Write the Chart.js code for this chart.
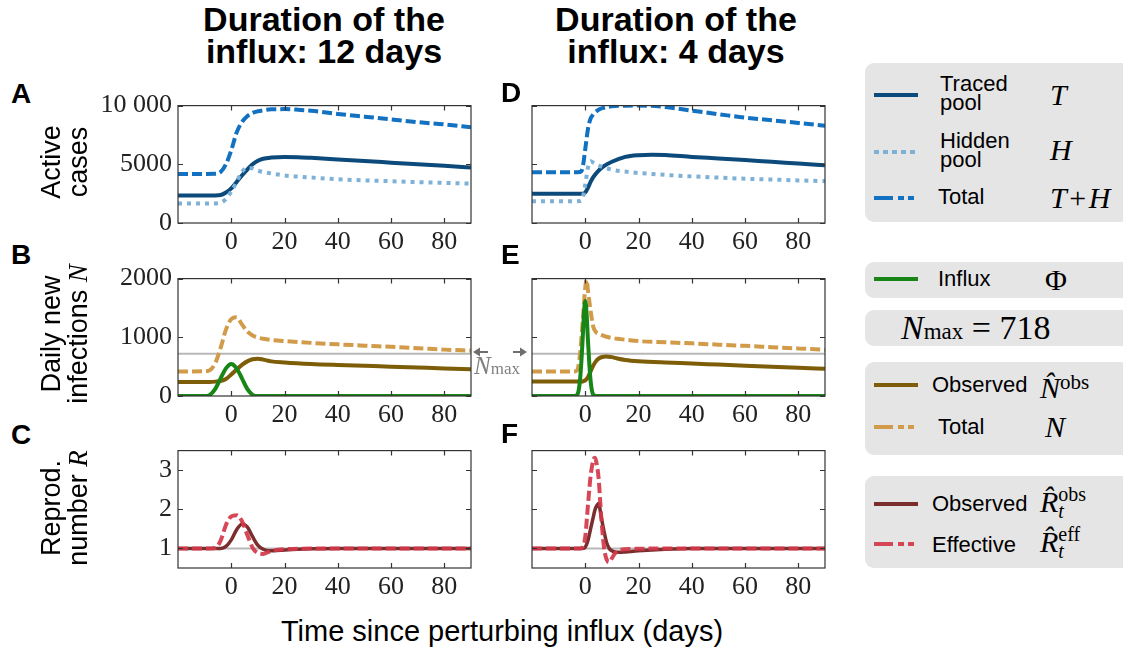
<!DOCTYPE html>
<html>
<head>
<meta charset="utf-8">
<script src="https://cdn.jsdelivr.net/npm/chart.js@4.4.1/dist/chart.umd.min.js"></script>
<style>
  body { margin: 0; width: 1123px; height: 653px; position: relative; overflow: hidden; background: #fff;
         font-family: "Liberation Sans", Arial, sans-serif; color: #000; }
  canvas.p { position: absolute; }
  .title { position: absolute; width: 340px; text-align: center; font-weight: bold; font-size: 34px; line-height: 32px; }
  .lab { position: absolute; font-weight: bold; font-size: 28px; line-height: 28px; }
  .ylab { position: absolute; width: 220px; height: 54px; font-size: 27px; line-height: 27px; text-align: center; transform: rotate(-90deg); }
  .m { font-family: "Liberation Serif", "Times New Roman", serif; font-style: italic; }
  .rm { font-family: "Liberation Serif", "Times New Roman", serif; font-style: normal; }
  .box { position: absolute; left: 865px; width: 290px; background: #e5e5e5; border-radius: 9px; }
  .lt { position: absolute; font-size: 22px; line-height: 19px; }
  .lm { position: absolute; font-size: 30px; line-height: 30px; white-space: nowrap; }
  .ss { display: inline-block; vertical-align: -6px; font-size: 20px; line-height: 17px; }
  .ss span { display: block; }
  svg.ls { position: absolute; left: 872px; width: 48px; height: 10px; overflow: visible; }
  .xl { position: absolute; left: 202px; width: 600px; text-align: center; font-size: 29px; line-height: 29px; top: 617px; }
</style>
</head>
<body>
<script>
// shared x ticks
const xTicks = [0, 20, 40, 60, 80];
const NMAX = 718;
const R_REF = 1;

// --- Panel A: active cases, 12-day influx ---
const tA      = [-20, -6, -4, -2, 0, 2, 4, 6, 8, 10, 12, 15, 20, 25, 30, 40, 50, 60, 70, 80, 90];
const tracedA = [2350, 2350, 2380, 2600, 2950, 3500, 4050, 4550, 5000, 5300, 5470, 5570, 5630, 5610, 5550, 5410, 5280, 5140, 5000, 4870, 4730];
const hiddenA = [1670, 1670, 1720, 2050, 2680, 3500, 4350, 4700, 4650, 4460, 4350, 4220, 4050, 3950, 3870, 3720, 3630, 3560, 3480, 3420, 3360];
const totalA  = [4180, 4190, 4350, 5000, 6200, 7700, 8600, 9100, 9380, 9520, 9600, 9680, 9700, 9650, 9560, 9290, 9060, 8830, 8590, 8400, 8150];

// --- Panel D: active cases, 4-day influx ---
const tD      = [-20, -4, -2, -1, 0, 1, 2, 3, 5, 7, 10, 15, 20, 25, 30, 40, 50, 60, 70, 80, 90];
const tracedD = [2490, 2490, 2490, 2500, 2600, 3000, 3500, 3900, 4460, 4850, 5220, 5630, 5780, 5820, 5800, 5630, 5500, 5360, 5210, 5070, 4920];
const hiddenD = [1860, 1860, 1870, 2100, 3300, 4700, 5250, 5150, 4900, 4750, 4540, 4380, 4260, 4180, 4100, 3970, 3870, 3770, 3700, 3630, 3560];
const totalD  = [4320, 4320, 4350, 4700, 6300, 8000, 8900, 9250, 9650, 9820, 9940, 9990, 10000, 9980, 9880, 9570, 9270, 8970, 8750, 8520, 8280];

// --- Panel B: daily new infections, 12-day influx ---
const tB      = [-20, -10, -8, -6, -4, -2, 0, 2, 4, 6, 8, 10, 12, 15, 20, 30, 40, 50, 60, 70, 80, 90];
const influxB = [0, 0, 20, 120, 300, 470, 545, 470, 300, 120, 20, 0, 0, 0, 0, 0, 0, 0, 0, 0, 0, 0];
const obsNB   = [240, 240, 240, 245, 255, 290, 365, 450, 530, 590, 625, 636, 620, 590, 571, 545, 528, 514, 500, 485, 470, 456];
const totNB   = [419, 420, 440, 560, 820, 1130, 1310, 1340, 1220, 1100, 1030, 995, 975, 955, 935, 905, 880, 858, 837, 815, 790, 772];

// --- Panel E: daily new infections, 4-day influx ---
const tEphi   = [-20, -4, -3, -2.5, -2, -1.5, -1, -0.5, 0, 0.5, 1, 1.5, 2, 2.5, 3, 4, 90];
const influxE = [0, 0, 20, 90, 260, 560, 950, 1400, 1620, 1400, 950, 560, 260, 90, 20, 0, 0];
const tE      = [-20, -4, -3, -2, -1, 0, 0.5, 1, 2, 3, 4, 5, 6, 8, 10, 12, 15, 20, 30, 40, 50, 60, 70, 80, 90];
const obsNE   = [245, 245, 245, 245, 248, 265, 290, 320, 420, 520, 590, 636, 660, 675, 662, 640, 615, 593, 570, 554, 535, 517, 500, 482, 463];
const totNE   = [419, 419, 440, 700, 1250, 1850, 1980, 1800, 1450, 1180, 1090, 1060, 1040, 1010, 989, 975, 960, 935, 915, 897, 875, 854, 832, 810, 788];

// --- Panel C: reproduction number, 12-day influx ---
const tC      = [-20, -8, -6, -4, -2, 0, 2, 4, 6, 8, 10, 12, 14, 16, 20, 25, 30, 40, 60, 90];
const effRC   = [1, 1, 1.01, 1.2, 1.6, 1.82, 1.85, 1.7, 1.35, 1.02, 0.88, 0.86, 0.91, 0.95, 0.98, 0.99, 1, 1, 1, 1];
const obsRC   = [1, 1, 1, 1, 1.05, 1.22, 1.48, 1.62, 1.55, 1.3, 1.08, 0.98, 0.94, 0.94, 0.96, 0.98, 0.99, 1, 1, 1];

// --- Panel F: reproduction number, 4-day influx ---
const tF      = [-20, -2, -1, 0, 1, 2, 3, 3.5, 4, 5, 6, 7, 8, 9, 10, 11, 12, 13, 15, 20, 30, 40, 90];
const effRF   = [1, 1, 1.03, 1.3, 2.1, 2.85, 3.25, 3.32, 3.25, 2.8, 1.8, 1.05, 0.72, 0.65, 0.75, 0.86, 0.93, 0.96, 0.98, 0.99, 1, 1, 1];
const obsRF   = [1, 1, 1, 1.03, 1.2, 1.5, 1.8, 1.95, 2.05, 2.15, 1.8, 1.45, 1.15, 1.0, 0.94, 0.91, 0.9, 0.9, 0.91, 0.94, 0.98, 1, 1];

// y ticks
const yTicksA = [0, 5000, 10000];
const yLabelsA = ['0', '5000', '10 000'];
const yTicksB = [0, 1000, 2000];
const yLabelsB = ['0', '1000', '2000'];
const yTicksC = [1, 2, 3];
const yLabelsC = ['1', '2', '3'];

const C = {
  traced: '#0b4a7b', hidden: '#7fb1d6', total: '#1271c1',
  influx: '#178617', obsN: '#7e5d09', totN: '#d19b4a',
  obsR: '#7a2e2e', effR: 'rgba(210,56,74,0.92)', ref: '#b8b8b8'
};

function pts(t, v) { return t.map((x, i) => ({ x: x, y: v[i] })); }
function line(t, v, color, width, dash) {
  return { data: pts(t, v), borderColor: color, borderWidth: width, borderDash: dash || [],
           pointRadius: 0, cubicInterpolationMode: 'monotone', borderCapStyle: 'butt', fill: false };
}
function refLine(val) { return line([-20, 90], [val, val], C.ref, 2); }

const tickFont = { family: '"Liberation Serif", "Times New Roman", serif', size: 26 };

// box + inward ticks on all four sides
const frame = {
  id: 'frame',
  afterDatasetsDraw(c) {
    const ctx = c.ctx, a = c.chartArea, x = c.scales.x, y = c.scales.y;
    ctx.save();
    ctx.strokeStyle = '#333';
    ctx.lineWidth = 1.2;
    ctx.strokeRect(a.left, a.top, a.right - a.left, a.bottom - a.top);
    ctx.beginPath();
    x.ticks.forEach(t => {
      const p = Math.round(x.getPixelForValue(t.value)) + 0.5;
      ctx.moveTo(p, a.bottom); ctx.lineTo(p, a.bottom - 5);
      ctx.moveTo(p, a.top); ctx.lineTo(p, a.top + 5);
    });
    y.ticks.forEach(t => {
      const p = Math.round(y.getPixelForValue(t.value)) + 0.5;
      ctx.moveTo(a.left, p); ctx.lineTo(a.left + 5, p);
      ctx.moveTo(a.right, p); ctx.lineTo(a.right - 5, p);
    });
    ctx.stroke();
    ctx.restore();
  }
};

function panel(box, yMin, yMax, yTicks, yLabels, showY, sets) {
  const cv = document.createElement('canvas');
  const W = box.r - box.l + 90 + 14, H = box.b - box.t + 16 + 36;
  cv.width = W; cv.height = H; cv.className = 'p';
  cv.style.left = (box.l - 90) + 'px'; cv.style.top = (box.t - 16) + 'px';
  cv.style.width = W + 'px'; cv.style.height = H + 'px';
  document.body.appendChild(cv);
  const n = sets.length;
  sets.forEach((s, i) => { s.order = n - i; });  // first listed = bottom
  new Chart(cv, {
    type: 'line',
    data: { datasets: sets },
    options: {
      responsive: false, animation: false, devicePixelRatio: 1, events: [],
      layout: { padding: { left: 0, top: 16, right: 14, bottom: 0 } },
      plugins: { legend: { display: false }, tooltip: { enabled: false } },
      scales: {
        x: {
          type: 'linear', min: -20, max: 90,
          afterBuildTicks: s => { s.ticks = xTicks.map(v => ({ value: v })); },
          afterFit: s => { s.height = 36; },
          grid: { display: false, drawTicks: false }, border: { display: false },
          ticks: { font: tickFont, color: '#222', padding: 4, maxRotation: 0, autoSkip: false }
        },
        y: {
          min: yMin, max: yMax,
          afterBuildTicks: s => { s.ticks = yTicks.map(v => ({ value: v })); },
          afterFit: s => { s.width = 90; },
          grid: { display: false, drawTicks: false }, border: { display: false },
          ticks: { font: tickFont, color: '#222', padding: 6, autoSkip: false,
                   callback: v => showY ? yLabels[yTicks.indexOf(v)] : '' }
        }
      }
    },
    plugins: [frame]
  });
}

const colL = { l: 178, r: 471 }, colR = { l: 532, r: 825 };
const rowA = { t: 100, b: 223 }, rowB = { t: 273, b: 396 }, rowC = { t: 445, b: 568 };

panel({ ...colL, ...rowA }, 0, 10000, yTicksA, yLabelsA, true, [
  line(tA, totalA, C.total, 4, [10, 4]),
  line(tA, tracedA, C.traced, 4),
  line(tA, hiddenA, C.hidden, 4, [4, 5])
]);
panel({ ...colR, ...rowA }, 0, 10000, yTicksA, yLabelsA, false, [
  line(tD, totalD, C.total, 4, [10, 4]),
  line(tD, tracedD, C.traced, 4),
  line(tD, hiddenD, C.hidden, 4, [4, 5])
]);
panel({ ...colL, ...rowB }, 0, 2000, yTicksB, yLabelsB, true, [
  refLine(NMAX),
  line(tB, obsNB, C.obsN, 4),
  line(tB, totNB, C.totN, 4, [10, 4]),
  line(tB, influxB, C.influx, 4)
]);
panel({ ...colR, ...rowB }, 0, 2000, yTicksB, yLabelsB, false, [
  refLine(NMAX),
  line(tE, obsNE, C.obsN, 4),
  line(tE, totNE, C.totN, 4, [10, 4]),
  line(tEphi, influxE, C.influx, 4)
]);
panel({ ...colL, ...rowC }, 0.5, 3.5, yTicksC, yLabelsC, true, [
  refLine(R_REF),
  line(tC, obsRC, C.obsR, 3.5),
  line(tC, effRC, C.effR, 4, [10, 4])
]);
panel({ ...colR, ...rowC }, 0.5, 3.5, yTicksC, yLabelsC, false, [
  refLine(R_REF),
  line(tF, obsRF, C.obsR, 3.5),
  line(tF, effRF, C.effR, 4, [10, 4])
]);
</script>

<div class="title" style="left:154px;top:3px;">Duration of the<br>influx: 12 days</div>
<div class="title" style="left:506px;top:3px;">Duration of the<br>influx: 4 days</div>

<div class="lab" style="left:11px;top:80px;">A</div>
<div class="lab" style="left:11px;top:241px;">B</div>
<div class="lab" style="left:11px;top:421px;">C</div>
<div class="lab" style="left:501px;top:79px;">D</div>
<div class="lab" style="left:501px;top:241px;">E</div>
<div class="lab" style="left:501px;top:420px;">F</div>

<div class="ylab" style="left:-45px;top:135px;">Active<br>cases</div>
<div class="ylab" style="left:-45px;top:307px;">Daily new<br>infections <span class="m">N</span></div>
<div class="ylab" style="left:-45px;top:481px;">Reprod.<br>number <span class="m">R</span></div>

<div class="xl">Time since perturbing influx (days)</div>

<!-- N_max marker between B and E -->
<svg class="abs" style="position:absolute;left:470px;top:344px;" width="62" height="16">
  <g stroke="#6e6e6e" stroke-width="2" fill="#6e6e6e">
    <line x1="18" y1="8" x2="8" y2="8"/><polygon points="3,8 10,3.5 10,12.5" stroke="none"/>
    <line x1="43" y1="8" x2="52" y2="8"/><polygon points="57,8 50,3.5 50,12.5" stroke="none"/>
  </g>
</svg>
<div style="position:absolute;left:474px;top:353px;color:#808080;font-size:25px;line-height:25px;white-space:nowrap;"><span class="m">N</span><span class="rm" style="font-size:17px;">max</span></div>

<!-- legend boxes -->
<div class="box" style="top:63px;height:159px;"></div>
<svg class="ls" style="top:90px;"><line x1="2" y1="5" x2="46" y2="5" stroke="#0b4a7b" stroke-width="4"/></svg>
<div class="lt" style="left:940px;top:74px;">Traced<br>pool</div>
<div class="lm m" style="left:1050px;top:80px;">T</div>
<svg class="ls" style="top:147px;"><line x1="2" y1="5" x2="46" y2="5" stroke="#7fb1d6" stroke-width="4" stroke-dasharray="5 4"/></svg>
<div class="lt" style="left:940px;top:131px;">Hidden<br>pool</div>
<div class="lm m" style="left:1050px;top:135px;">H</div>
<svg class="ls" style="top:193px;"><line x1="2" y1="5" x2="46" y2="5" stroke="#1271c1" stroke-width="4" stroke-dasharray="19 5 6 4 6"/></svg>
<div class="lt" style="left:938px;top:187px;">Total</div>
<div class="lm" style="left:1050px;top:183px;"><span class="m">T</span><span class="rm">&#8202;+&#8202;</span><span class="m">H</span></div>

<div class="box" style="top:262px;height:36px;"></div>
<svg class="ls" style="top:274px;"><line x1="2" y1="5" x2="46" y2="5" stroke="#178617" stroke-width="4"/></svg>
<div class="lt" style="left:938px;top:269px;">Influx</div>
<div class="lm rm" style="left:1045px;top:265px;">&Phi;</div>

<div class="box" style="top:310px;height:36px;"></div>
<div class="lm" style="left:901px;top:310px;font-size:34px;line-height:34px;"><span class="m">N</span><span class="rm" style="font-size:23px;">max</span><span class="rm"> = 718</span></div>

<div class="box" style="top:362px;height:93px;"></div>
<svg class="ls" style="top:380px;"><line x1="2" y1="5" x2="46" y2="5" stroke="#7e5d09" stroke-width="4"/></svg>
<div class="lt" style="left:932px;top:375px;">Observed</div>
<div class="lm" style="left:1040px;top:367px;"><span class="m">N&#770;</span><span class="rm" style="font-size:21px;vertical-align:9px;">obs</span></div>
<svg class="ls" style="top:422px;"><line x1="2" y1="5" x2="46" y2="5" stroke="#d19b4a" stroke-width="4" stroke-dasharray="19 5 6 4 6"/></svg>
<div class="lt" style="left:938px;top:417px;">Total</div>
<div class="lm m" style="left:1045px;top:412px;">N</div>

<div class="box" style="top:476px;height:92px;"></div>
<svg class="ls" style="top:499px;"><line x1="2" y1="5" x2="46" y2="5" stroke="#7a2e2e" stroke-width="4"/></svg>
<div class="lt" style="left:932px;top:494px;">Observed</div>
<div class="lm" style="left:1040px;top:486px;"><span class="m">R&#770;</span><span class="ss"><span class="rm">obs</span><span class="m">t</span></span></div>
<svg class="ls" style="top:539px;"><line x1="2" y1="5" x2="46" y2="5" stroke="rgba(210,56,74,0.92)" stroke-width="4" stroke-dasharray="19 5 6 4 6"/></svg>
<div class="lt" style="left:932px;top:535px;">Effective</div>
<div class="lm" style="left:1040px;top:526px;"><span class="m">R&#770;</span><span class="ss"><span class="rm">eff</span><span class="m">t</span></span></div>
</body>
</html>
